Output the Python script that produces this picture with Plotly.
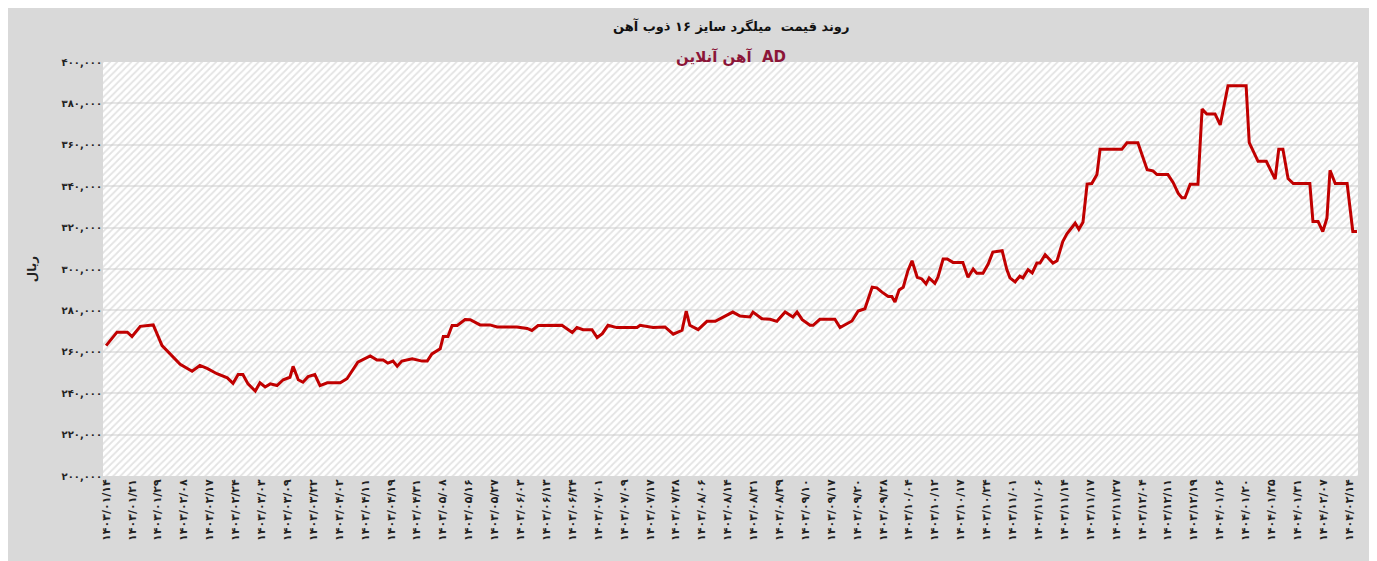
import plotly.graph_objects as go

FA = str.maketrans("0123456789", "۰۱۲۳۴۵۶۷۸۹")

# record position (one record per step, a date label every 5 records)
rec = [0, 2.1, 4.1, 5, 6.6, 9.1, 10.8, 12.4, 14.3, 16.6, 18.1, 19.5, 21.4, 23.4, 24.5, 25.5,
       26.4, 27.4, 28.8, 29.7, 30.7, 31.7, 33, 34.2, 35.5, 36.1, 37.1, 38, 39, 40.3, 41.3,
       42.7, 45.2, 46.5, 48.6, 51, 52.3, 53.5, 54.4, 55.4, 56.2, 57.1, 59.1, 61, 62, 62.9,
       64.5, 65.1, 66, 66.8, 67.8, 69.3, 70.3, 72.2, 74.1, 75.5, 79.3, 81.3, 82.2, 83.4,
       85.7, 88, 90, 90.9, 92.1, 93.8, 94.8, 95.8, 96.9, 98.6, 102.5, 103.1, 105.6, 107.9,
       109.5, 111.2, 112, 112.7, 114.3, 116, 117.6, 118.9, 121, 122.4, 124.3, 124.9, 126.6,
       128.2, 129.5, 131.1, 132.6, 133.4, 134.4, 135.9, 136.5, 137.8, 140.7, 141.7, 143,
       144, 145.2, 146.5, 147.9, 148.8, 149.8, 151, 151.7, 152.3, 153.1, 153.9, 154.8,
       155.6, 156.6, 157.5, 158.3, 158.9, 160, 160.6, 161.6, 162.4, 163.5, 165.4, 166.4,
       167.4, 168.1, 169.3, 170.3, 171.2, 173, 173.9, 174.5, 175.5, 176.4, 177, 178, 178.8,
       179.7, 180.3, 181.3, 182.8, 183.6, 184.7, 185.5, 187.1, 187.8, 188.6, 189.4, 190.3,
       191.3, 191.9, 196.1, 197.1, 199.2, 200.2, 201, 202.1, 202.9, 205, 206, 207, 207.7,
       208.3, 209.3, 210.8, 211.6, 212.5, 214.1, 215.1, 216.6, 220.1, 220.7, 222.4, 224,
       225.7, 226.4, 227.2, 228.2, 229.2, 232.4, 233, 234, 234.9, 235.7, 236.3, 237.3,
       239.6, 240.7, 241.5]

# price, thousand rial
price = [263, 269.5, 269.5, 267.4, 272.3, 273, 263, 259, 254, 250.6, 253.4, 252, 249.4,
         247.4, 244.8, 249, 249, 244.5, 241, 245, 243, 244.5, 243.7, 246.5, 247.7, 253,
         246.5, 245.3, 248, 249, 243.7, 245, 245, 247, 255, 258, 256, 256, 254.5, 255.5,
         253, 255.5, 256.6, 255.5, 255.5, 259, 261.5, 267.4, 267.4, 272.7, 272.7, 275.6,
         275.5, 273, 273, 272, 272, 271.3, 270.3, 272.7, 272.7, 272.8, 269.3, 271.7, 270.7,
         270.7, 266.9, 268.8, 272.8, 271.7, 271.7, 272.8, 271.7, 272, 268.5, 270.4, 279.7,
         272.8, 270.7, 274.7, 274.7, 276.5, 279.2, 277.3, 276.8, 279.2, 276, 275.7, 274.7,
         279.2, 276.8, 279.2, 275.5, 272.8, 272.8, 275.7, 275.7, 271.7, 273.3, 274.9, 279.7,
         280.8, 291.2, 290.9, 288.8, 286.7, 286.7, 284, 289.9, 291.2, 299.2, 304, 296, 295.2,
         292.8, 295.7, 293.1, 296, 304.8, 304.8, 303.2, 303.2, 296, 300, 297.9, 297.9, 302.4,
         308.2, 308.8, 299.7, 295.7, 293.8, 296.5, 295.7, 299.7, 298.1, 302.9, 302.9, 306.9,
         302.9, 304, 313.3, 317, 322.1, 319.2, 322.6, 341, 341.3, 345.6, 357.8, 357.8, 361,
         361, 353.3, 348, 347.4, 345.6, 345.6, 341.8, 336.5, 334.4, 334.4, 341, 341, 377.3,
         374.9, 374.9, 369.6, 388.5, 388.5, 361, 352, 352, 343.4, 357.8, 357.8, 343.7, 341.3,
         341.3, 322.9, 322.9, 318.1, 324.5, 347.7, 341.3, 341.3, 318.1, 318.1]

date_labels = ["1403/01/14", "1403/01/21", "1403/01/29", "1403/02/08", "1403/02/17",
               "1403/02/24", "1403/03/03", "1403/03/09", "1403/03/22", "1403/04/02",
               "1403/04/11", "1403/04/19", "1403/04/31", "1403/05/08", "1403/05/16",
               "1403/05/27", "1403/06/03", "1403/06/13", "1403/06/24", "1403/07/01",
               "1403/07/09", "1403/07/17", "1403/07/28", "1403/08/06", "1403/08/14",
               "1403/08/21", "1403/08/29", "1403/09/10", "1403/09/17", "1403/09/20",
               "1403/09/28", "1403/10/04", "1403/10/12", "1403/10/17", "1403/10/24",
               "1403/11/01", "1403/11/06", "1403/11/14", "1403/11/17", "1403/11/27",
               "1403/12/04", "1403/12/11", "1403/12/19", "1404/01/16", "1404/01/20",
               "1404/01/25", "1404/01/31", "1404/02/07", "1404/02/14"]
y_ticks = [200000, 220000, 240000, 260000, 280000, 300000, 320000, 340000, 360000,
           380000, 400000]

FONT = "DejaVu Sans"
X_RANGE = [-0.6, 241.7]
Y_RANGE = [200000, 400000]

fig = go.Figure()
# hatched plot background, transparent so the grid shows through
fig.add_trace(go.Scatter(x=[X_RANGE[0], X_RANGE[1], X_RANGE[1], X_RANGE[0], X_RANGE[0]],
                         y=[Y_RANGE[0], Y_RANGE[0], Y_RANGE[1], Y_RANGE[1], Y_RANGE[0]],
                         mode="lines", line=dict(width=0), fill="toself",
                         fillcolor="rgba(0,0,0,0)",
                         fillpattern=dict(shape="/", fgcolor="#c8c8c8", bgcolor="rgba(0,0,0,0)",
                                          size=5, solidity=0.35),
                         hoverinfo="skip", showlegend=False))
fig.add_trace(go.Scatter(x=rec, y=[p * 1000 for p in price], mode="lines",
                         line=dict(color="#c00000", width=3), showlegend=False))

fig.update_layout(
    width=1377, height=561,
    paper_bgcolor="#d9d9d9", plot_bgcolor="white",
    margin=dict(l=95, r=27, t=54, b=93),
    font=dict(family=FONT, color="#222", size=10),
    xaxis=dict(range=X_RANGE, tickvals=[i * 5 for i in range(len(date_labels))],
               ticktext=["<b>" + d.translate(FA) + "</b>" for d in date_labels], tickangle=-90,
               tickfont=dict(size=11, family=FONT, color="#222"), showgrid=False,
               zeroline=False, showline=False, ticks=""),
    yaxis=dict(range=Y_RANGE, tickvals=y_ticks,
               ticktext=["<b>" + f"{v:,}".translate(FA) + "</b>" for v in y_ticks],
               tickfont=dict(size=10, family=FONT, color="#222"),
               gridcolor="#e6e6e6", gridwidth=1.5, zeroline=False, ticks="",
               title=dict(text="<b>ریال</b>", font=dict(size=12, family=FONT), standoff=22)),
    annotations=[
        dict(text="<b>روند قیمت  میلگرد سایز ۱۶ ذوب آهن</b>", xref="paper", yref="paper",
             x=0.5, y=1, yshift=46, showarrow=False, font=dict(size=13, family=FONT, color="#111")),
        dict(text="<b>آهن آنلاین  AD</b>", xref="paper", yref="paper", x=0.5, y=1, yshift=16,
             showarrow=False, font=dict(size=15, family=FONT, color="#8b1538")),
    ],
)
fig.write_html("out.html")
